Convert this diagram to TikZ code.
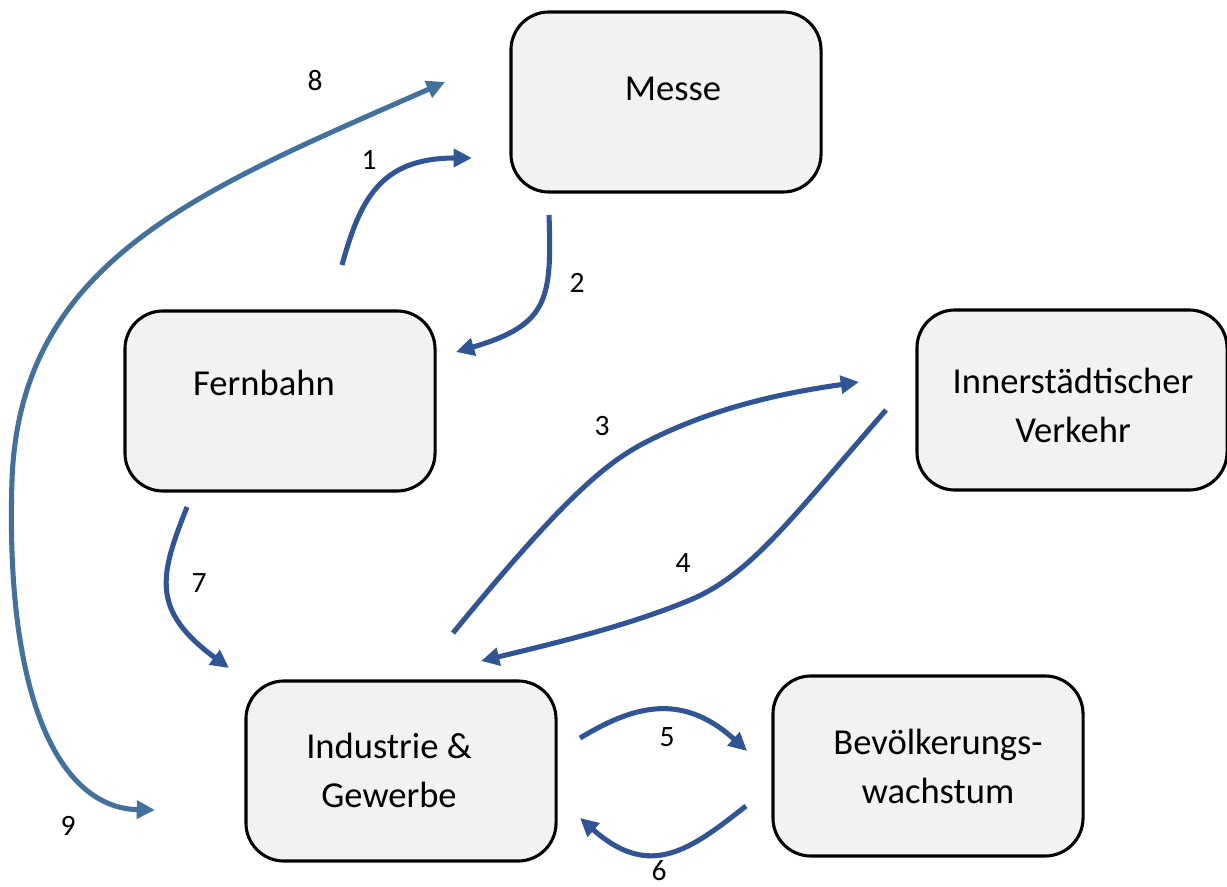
\documentclass[tikz,border=0pt]{standalone}
\usepackage{fontspec}
\setmainfont{Carlito}
\usetikzlibrary{arrows.meta}
\definecolor{arrd}{HTML}{2F5597}
\definecolor{arrl}{HTML}{41719C}
\definecolor{boxfill}{HTML}{F2F2F2}
\begin{document}
\begin{tikzpicture}[x=0.025cm,y=-0.025cm,
  box/.style={draw=black,line width=2.2pt,fill=boxfill,rounded corners=0.95cm,minimum width=7.75cm,minimum height=4.5cm,inner sep=0pt},
  boxtxt/.style={font=\fontsize{26}{34.8}\selectfont,align=center,inner sep=0pt},
  num/.style={font=\fontsize{21}{25}\selectfont,inner sep=0pt},
  conn/.style={draw=arrd,line width=3.6pt,-{Triangle[length=13pt,width=12.5pt]}},
  connl/.style={draw=arrl,line width=3.6pt,-{Triangle[length=13pt,width=12.5pt]}}]
\useasboundingbox (0,0) rectangle (1227,886);
% boxes
\node[box] (messe) at (666,102) {};
\node[box] (fern) at (280,401) {};
\node[box] (inner) at (1072,400) {};
\node[box] (ind) at (401,771) {};
\node[box] (bev) at (928,766) {};
% box texts
\node[boxtxt] (messeT) at (673,89) {Messe};
\node[boxtxt] (fernT) at (264,383) {Fernbahn};
\node[boxtxt] (innerT) at (1073,405) {Innerstädtischer\\Verkehr};
\node[boxtxt] (indT) at (389,770) {Industrie \&\\Gewerbe};
\node[boxtxt] (bevT) at (938,766) {Bevölkerungs-\\wachstum};
% connector end points
\coordinate (s1) at (342,265); \coordinate (e1) at (472,158);
\coordinate (s2) at (549,215); \coordinate (e2) at (456,352);
\coordinate (s3) at (453,633); \coordinate (e3) at (859,382);
\coordinate (s4) at (886,410); \coordinate (e4) at (481,661);
\coordinate (s5) at (580,738); \coordinate (e5) at (747,751);
\coordinate (s6) at (746,806); \coordinate (e6) at (580,818);
\coordinate (s7) at (187,507); \coordinate (e7) at (229,668);
\coordinate (e8) at (445,82); \coordinate (m89) at (12,480); \coordinate (e9) at (155,810);
% connectors
\draw[conn] (s1) .. controls (360,200) and (380,158) .. (e1);
\draw[conn] (s2) .. controls (552,300) and (548,325) .. (e2);
\draw[conn] (s3) .. controls (570,490) and (610,460) .. (650,440) .. controls (720,405) and (790,392) .. (e3);
\draw[conn] (s4) .. controls (790,520) and (750,575) .. (690,600) .. controls (630,625) and (560,642) .. (e4);
\draw[conn] (s5) .. controls (630,708) and (680,690) .. (e5);
\draw[conn] (s6) .. controls (690,850) and (650,880) .. (e6);
\draw[conn] (s7) .. controls (160,575) and (150,610) .. (e7);
\draw[connl] (m89) .. controls (20,260) and (200,190) .. (e8);
\draw[connl] (m89) .. controls (5,700) and (60,808) .. (e9);
% labels
\node[num] (n1) at (369,160) {1};
\node[num] (n2) at (577,283) {2};
\node[num] (n3) at (602,426) {3};
\node[num] (n4) at (683,563) {4};
\node[num] (n5) at (667,737) {5};
\node[num] (n6) at (659,871) {6};
\node[num] (n7) at (199,583) {7};
\node[num] (n8) at (315,81) {8};
\node[num] (n9) at (68,826) {9};
\end{tikzpicture}
\end{document}
